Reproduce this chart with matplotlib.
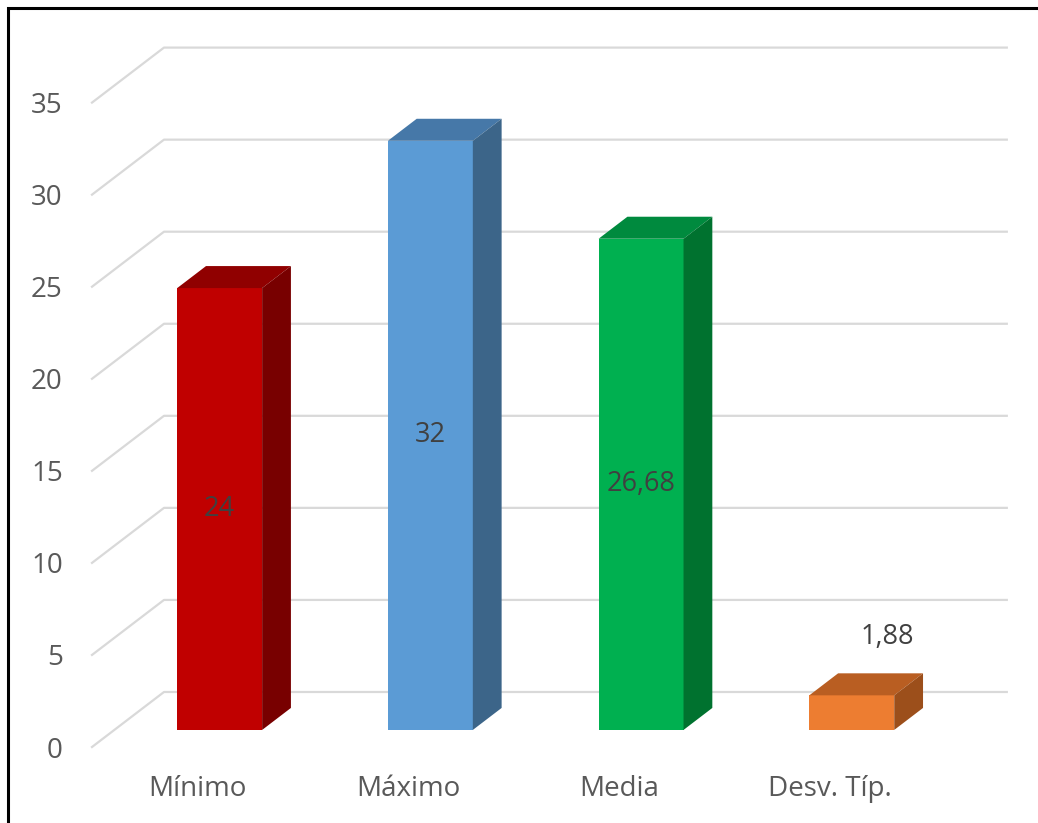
import matplotlib
matplotlib.use("Agg")
import matplotlib.pyplot as plt
from matplotlib.patches import Polygon, Rectangle

categories = ["Mínimo", "Máximo", "Media", "Desv. Típ."]
values = [24, 32, 26.68, 1.88]
value_labels = ["24", "32", "26,68", "1,88"]
yticks = [0, 5, 10, 15, 20, 25, 30, 35]

front_colors = ["#C00000", "#5B9BD5", "#00B050", "#ED7D31"]
top_colors = ["#900000", "#4678A8", "#008A3E", "#B95E22"]
side_colors = ["#780000", "#3C6589", "#00722F", "#9C4F1B"]

# fake 3D: offset of the back wall relative to the front edge, in data units
DEPTH_X = 0.3417
DEPTH_Y = 2.988
BAR_D0, BAR_D1 = 0.31, 0.71
BAR_W = 0.403

plt.rcParams["font.family"] = ["Open Sans", "DejaVu Sans"]

fig = plt.figure(figsize=(10.38, 8.23), dpi=100)
ax = fig.add_axes([92 / 1038, 76 / 823, 842.8 / 1038, 644.4 / 823])
ax.set_xlim(-0.5, 3.5)
ax.set_ylim(0, 35)
for s in ax.spines.values():
    s.set_visible(False)

# gridlines: diagonal on the floor/side plus horizontal on the back wall
for t in yticks:
    ax.plot([-0.5, -0.5 + DEPTH_X, 3.5 + DEPTH_X], [t, t + DEPTH_Y, t + DEPTH_Y],
            color="#D9D9D9", lw=1.6, clip_on=False, zorder=1)

bx = (BAR_D1 - BAR_D0) * DEPTH_X
by = (BAR_D1 - BAR_D0) * DEPTH_Y
for i, v in enumerate(values):
    x0 = i + BAR_D0 * DEPTH_X - BAR_W / 2
    x1 = x0 + BAR_W
    y0 = BAR_D0 * DEPTH_Y
    y1 = y0 + v
    front = Polygon([(x0, y0), (x1, y0), (x1, y1), (x0, y1)], closed=True,
                    facecolor=front_colors[i], edgecolor="none", zorder=3, clip_on=False)
    top = Polygon([(x0, y1), (x1, y1), (x1 + bx, y1 + by), (x0 + bx, y1 + by)], closed=True,
                  facecolor=top_colors[i], edgecolor="none", zorder=3, clip_on=False)
    side = Polygon([(x1, y0), (x1 + bx, y0 + by), (x1 + bx, y1 + by), (x1, y1)], closed=True,
                   facecolor=side_colors[i], edgecolor="none", zorder=3, clip_on=False)
    for p in (front, top, side):
        ax.add_patch(p)

    xc = (x0 + x1) / 2
    if v > 5:
        ax.text(xc, y0 + v / 2, value_labels[i], ha="center", va="center",
                fontsize=19.5, color="#404040", zorder=5)
    else:
        ax.annotate(value_labels[i], (xc + bx, y1 + by), xytext=(5, 16),
                    textcoords="offset points", ha="center", va="bottom",
                    fontsize=19.5, color="#404040", zorder=5)

ax.set_yticks(yticks)
ax.set_yticklabels([str(t) for t in yticks])
ax.set_xticks(range(len(categories)))
ax.set_xticklabels(categories)
ax.tick_params(axis="y", length=0, pad=21, labelsize=20, labelcolor="#595959")
ax.tick_params(axis="x", length=0, pad=20, labelsize=20, labelcolor="#595959")

# chart frame (only top/left edges fall inside the image)
fig.patches.append(Rectangle((8 / 1038, -0.1), 1.2, 1.1 - 8 / 823, transform=fig.transFigure,
                             fill=False, edgecolor="black", lw=2.2))

fig.savefig("out.png", dpi=100)
